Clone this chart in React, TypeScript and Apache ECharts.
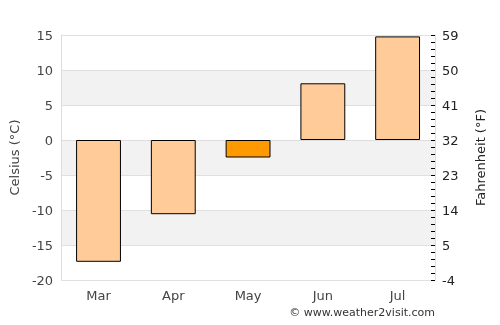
import React, { useEffect, useRef } from "react";
import * as echarts from "echarts";

const months = ["Mar", "Apr", "May", "Jun", "Jul"];
const celsius = [-17.4, -10.6, -2.5, 8.1, 14.8];
const highlightIndex = 2;
const barColor = "#ffcc99";
const highlightColor = "#ff9900";

export default function App() {
  const ref = useRef<HTMLDivElement>(null);
  useEffect(() => {
    const chart = echarts.init(ref.current!, null, { renderer: "svg" });
    const font = "DejaVu Sans";
    chart.setOption({
      animation: false,
      textStyle: { fontFamily: font },
      grid: { left: 60, right: 65, top: 35, bottom: 45, containLabel: false },
      xAxis: {
        type: "category",
        data: months,
        axisLine: { show: true, lineStyle: { color: "#dddddd" } },
        axisTick: { show: false },
        axisLabel: { color: "#444", fontSize: 13, margin: 9, fontFamily: font },
      },
      yAxis: [
        {
          type: "value",
          min: -20,
          max: 15,
          interval: 5,
          position: "left",
          name: "Celsius (°C)",
          nameLocation: "middle",
          nameGap: 33,
          nameTextStyle: { color: "#444", fontSize: 13, fontFamily: font },
          axisLine: { show: true, lineStyle: { color: "#dddddd" } },
          axisTick: { show: false },
          axisLabel: { color: "#444", fontSize: 13, margin: 8, fontFamily: font },
          splitLine: { show: true, lineStyle: { color: "#e0e0e0" } },
          splitArea: { show: true, areaStyle: { color: ["#ffffff", "#f2f2f2"] } },
        },
        {
          type: "value",
          min: -20,
          max: 15,
          interval: 5,
          position: "right",
          name: "Fahrenheit (°F)",
          nameLocation: "middle",
          nameGap: 39,
          nameRotate: 90,
          nameTextStyle: { color: "#222", fontSize: 13, fontFamily: font },
          axisLine: { show: true, lineStyle: { color: "#dddddd" } },
          axisTick: { show: true, inside: true, length: 4, lineStyle: { color: "#000" } },
          minorTick: { show: true, splitNumber: 5, length: 4, lineStyle: { color: "#000" } },
          axisLabel: {
            color: "#222",
            fontSize: 13,
            margin: 7,
            fontFamily: font,
            formatter: (v: number) => String(Math.round((v * 9) / 5 + 32)),
          },
          splitLine: { show: false },
        },
      ],
      series: [
        {
          type: "bar",
          yAxisIndex: 0,
          barWidth: "60%",
          data: celsius.map((v, i) => ({
            value: v,
            itemStyle: { color: i === highlightIndex ? highlightColor : barColor },
          })),
          itemStyle: { borderColor: "#000", borderWidth: 1 },
        },
      ],
      graphic: [
        {
          type: "text",
          right: 65,
          top: 307,
          style: {
            text: "© www.weather2visit.com",
            fill: "#333",
            font: "11px DejaVu Sans",
          },
        },
      ],
    });
    return () => chart.dispose();
  }, []);
  return (
    <div
      ref={ref}
      style={{ position: "fixed", left: 0, top: 0, width: 500, height: 325 }}
    />
  );
}
